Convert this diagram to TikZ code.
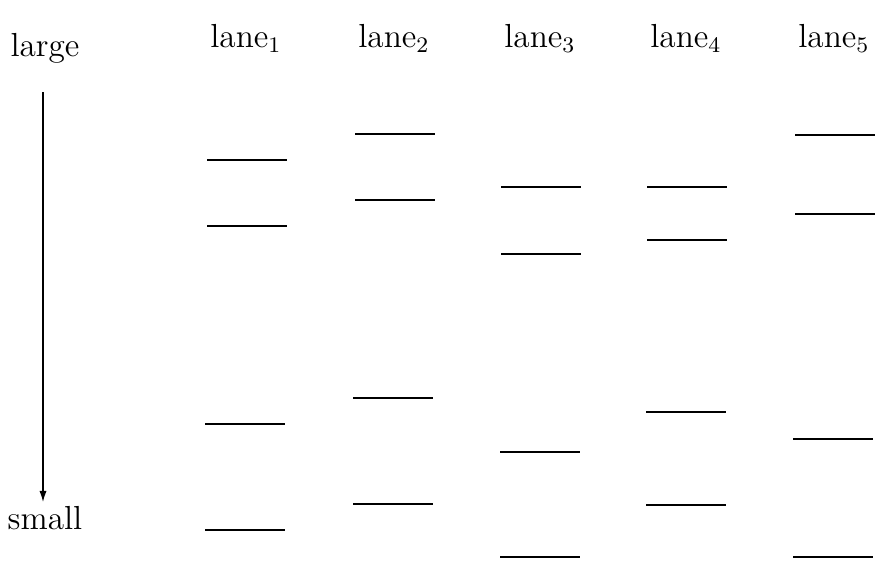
\documentclass[tikz,border=0pt]{standalone}
\usetikzlibrary{arrows.meta}
\begin{document}
\begin{tikzpicture}[x=0.36pt,y=-0.36pt,
  lbl/.style={inner sep=0pt,anchor=base,font=\fontsize{12}{14}\selectfont},
  level/.style={line width=0.5pt},
  scaleaxis/.style={line width=0.5pt,-{Latex[length=4pt,width=2.6pt]}}]
\useasboundingbox (0,0) rectangle (877,561);
% axis labels and arrow
\node[lbl] (large) at (45,56) {large};
\node[lbl] (small) at (45,529) {small};
\coordinate (top) at (43,92);
\coordinate (bot) at (43,502);
\draw[scaleaxis] (top) -- (bot);
% lane headings
\foreach \i/\x in {1/246,2/394,3/540,4/686,5/834}
  \node[lbl] (lane\i) at (\x,47) {lane$_{\i}$};
% levels in each lane
\foreach \x/\ys in {207/{160,226},205/{424,530},355/{134,200},353/{398,504},501/{187,254},500/{452,557},647/{187,240},646/{412,505},795/{135,214},793/{439,557}}
  \foreach \y in \ys
    \draw[level] (\x,\y) -- ++(80,0);
\end{tikzpicture}
\end{document}
